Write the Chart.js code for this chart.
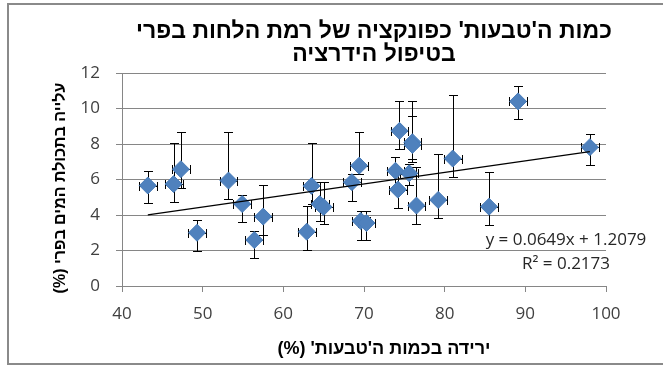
<!DOCTYPE html>
<html>
<head>
<meta charset="utf-8">
<script src="https://cdn.jsdelivr.net/npm/chart.js@4"></script>
<style>
  html, body { margin: 0; padding: 0; background: #fff; overflow: hidden; width: 663px; height: 365px; }
  #wrap { position: absolute; left: 0; top: 0; width: 748px; height: 365px; }
  #frame { position: absolute; left: 7px; top: 3px; width: 745px; height: 362px; box-sizing: border-box; border: 2px solid #8a8a8a; pointer-events: none; }
</style>
</head>
<body>
<div id="wrap"><canvas id="chart" width="748" height="365"></canvas></div>
<div id="frame"></div>
<script>
// Decline in "rings" (%) vs. gain in fruit water content (%), hydration treatment
const ringDrop = [43.2, 46.4, 47.3, 49.3, 53.2, 54.9, 56.4, 57.5, 62.9, 63.5, 64.5, 65.0, 68.5, 69.4,
                  69.6, 70.3, 73.9, 74.4, 74.2, 75.6, 76.0, 76.0, 76.5, 79.2, 81.0, 85.5, 89.1, 98.0];
const waterGain = [5.66, 5.74, 6.58, 3.00, 5.94, 4.62, 2.59, 3.91, 3.06, 5.64, 4.62, 4.45, 5.85, 6.78,
                   3.66, 3.55, 6.49, 8.74, 5.43, 6.35, 8.10, 7.95, 4.53, 4.85, 7.18, 4.47, 10.40, 7.82];
const waterGainHigh = [6.49, 8.05, 8.70, 3.70, 8.70, 5.13, 3.10, 5.70, 4.51, 8.08, 5.88, 5.88, 6.30, 8.65,
                       4.25, 4.25, 7.24, 10.40, 6.30, 6.90, 10.45, 9.59, 6.70, 7.46, 10.74, 6.41, 11.24, 8.59];
const waterGainLow = [4.66, 4.74, 5.51, 1.99, 4.89, 3.62, 1.56, 2.88, 2.05, 4.60, 3.66, 3.48, 4.79, 6.30,
                      2.59, 2.59, 5.60, 7.71, 4.42, 5.70, 7.14, 7.00, 3.50, 3.84, 6.16, 3.44, 9.42, 6.82];
const ringDropErr = 1.1;

const xTicks = [40, 50, 60, 70, 80, 90, 100];
const yTicks = [0, 2, 4, 6, 8, 10, 12];

// Linear trendline
const slope = 0.0649;
const intercept = 1.2079;
const rSquared = 0.2173;

const titleLines = ["כמות ה'טבעות' כפונקציה של רמת הלחות בפרי", "בטיפול הידרציה"];
const xTitle = "ירידה בכמות ה'טבעות' (%)";
const yTitle = "עלייה בתכולת המים בפרי (%)";

const points = ringDrop.map((x, i) => ({ x: x, y: waterGain[i] }));
const xMin = Math.min(...ringDrop), xMax = Math.max(...ringDrop);
const trend = [xMin, xMax].map(x => ({ x: x, y: slope * x + intercept }));

const gridColor = '#868686';
const tickFont = { family: "'Open Sans', 'Liberation Sans', sans-serif", size: 17 };

const errorBars = {
  id: 'errorBars',
  beforeDatasetsDraw(chart) {
    const xs = chart.scales.x, ys = chart.scales.y, ctx = chart.ctx;
    ctx.save();
    ctx.strokeStyle = '#000';
    ctx.lineWidth = 1;
    const cap = 4.5;
    ringDrop.forEach((xv, i) => {
      const px = Math.round(xs.getPixelForValue(xv)) + 0.5;
      const py = Math.round(ys.getPixelForValue(waterGain[i])) + 0.5;
      const yHi = Math.round(ys.getPixelForValue(waterGainHigh[i])) + 0.5;
      const yLo = Math.round(ys.getPixelForValue(waterGainLow[i])) + 0.5;
      const xL = Math.round(xs.getPixelForValue(xv - ringDropErr)) + 0.5;
      const xR = Math.round(xs.getPixelForValue(xv + ringDropErr)) + 0.5;
      ctx.beginPath();
      ctx.moveTo(px, yHi); ctx.lineTo(px, yLo);
      ctx.moveTo(px - cap, yHi); ctx.lineTo(px + cap, yHi);
      ctx.moveTo(px - cap, yLo); ctx.lineTo(px + cap, yLo);
      ctx.moveTo(xL, py); ctx.lineTo(xR, py);
      ctx.moveTo(xL, py - cap); ctx.lineTo(xL, py + cap);
      ctx.moveTo(xR, py - cap); ctx.lineTo(xR, py + cap);
      ctx.stroke();
    });
    ctx.restore();
  }
};

const texts = {
  id: 'texts',
  beforeDraw(chart) {
    const ctx = chart.ctx;
    ctx.save();
    ctx.fillStyle = '#fff';
    ctx.fillRect(0, 0, chart.width, chart.height);
    ctx.restore();
  },
  afterDraw(chart) {
    const ctx = chart.ctx;
    const area = chart.chartArea;
    ctx.save();
    ctx.direction = 'rtl';
    ctx.fillStyle = '#000';
    ctx.textAlign = 'center';
    ctx.textBaseline = 'alphabetic';
    ctx.font = "bold 23px 'Liberation Sans', Arial, sans-serif";
    ctx.fillText(titleLines[0], chart.width / 2, 38);
    ctx.fillText(titleLines[1], chart.width / 2, 61);

    ctx.font = "bold 18px 'Liberation Sans', Arial, sans-serif";
    ctx.textBaseline = 'middle';
    ctx.fillText(xTitle, 384, 349);

    ctx.font = "bold 16px 'Liberation Sans', Arial, sans-serif";
    ctx.translate(61, 188);
    ctx.rotate(-Math.PI / 2);
    ctx.fillText(yTitle, 0, 0);
    ctx.restore();

    // trendline equation
    ctx.save();
    ctx.direction = 'ltr';
    ctx.fillStyle = '#262626';
    ctx.textAlign = 'center';
    ctx.textBaseline = 'alphabetic';
    ctx.font = "17px 'Open Sans', 'Liberation Sans', sans-serif";
    const cx = area.right - 40;
    ctx.fillText('y = ' + slope.toFixed(4) + 'x + ' + intercept.toFixed(4), cx, 245);
    ctx.fillText('R\u00B2 = ' + rSquared.toFixed(4), cx, 269);
    ctx.restore();
  }
};

new Chart(document.getElementById('chart'), {
  type: 'scatter',
  data: {
    datasets: [
      {
        data: trend,
        showLine: true,
        borderColor: '#000',
        borderWidth: 1.3,
        pointRadius: 0,
        fill: false
      },
      {
        data: points,
        pointStyle: 'rectRot',
        pointRadius: 8.5,
        pointHoverRadius: 8.5,
        backgroundColor: '#4F81BD',
        borderColor: '#4A7EBB',
        borderWidth: 1
      }
    ]
  },
  options: {
    responsive: false,
    animation: false,
    events: [],
    layout: { padding: { top: 73, right: 142, left: 0, bottom: 0 } },
    plugins: { legend: { display: false }, tooltip: { enabled: false }, title: { display: false } },
    scales: {
      x: {
        type: 'linear', min: 40, max: 100,
        afterFit(s) { s.height = 79; },
        afterBuildTicks(s) { s.ticks = xTicks.map(v => ({ value: v })); },
        ticks: { font: tickFont, color: '#404040', padding: 12, maxRotation: 0 },
        grid: { drawOnChartArea: false, drawTicks: true, tickLength: 6, color: gridColor },
        border: { display: true, color: gridColor, width: 1 }
      },
      y: {
        type: 'linear', min: 0, max: 12,
        afterFit(s) { s.width = 122; },
        afterBuildTicks(s) { s.ticks = yTicks.map(v => ({ value: v })); },
        ticks: { font: tickFont, color: '#404040', padding: 16 },
        grid: { drawOnChartArea: true, drawTicks: true, tickLength: 6, color: gridColor },
        border: { display: true, color: gridColor, width: 1 }
      }
    }
  },
  plugins: [errorBars, texts]
});
</script>
</body>
</html>
